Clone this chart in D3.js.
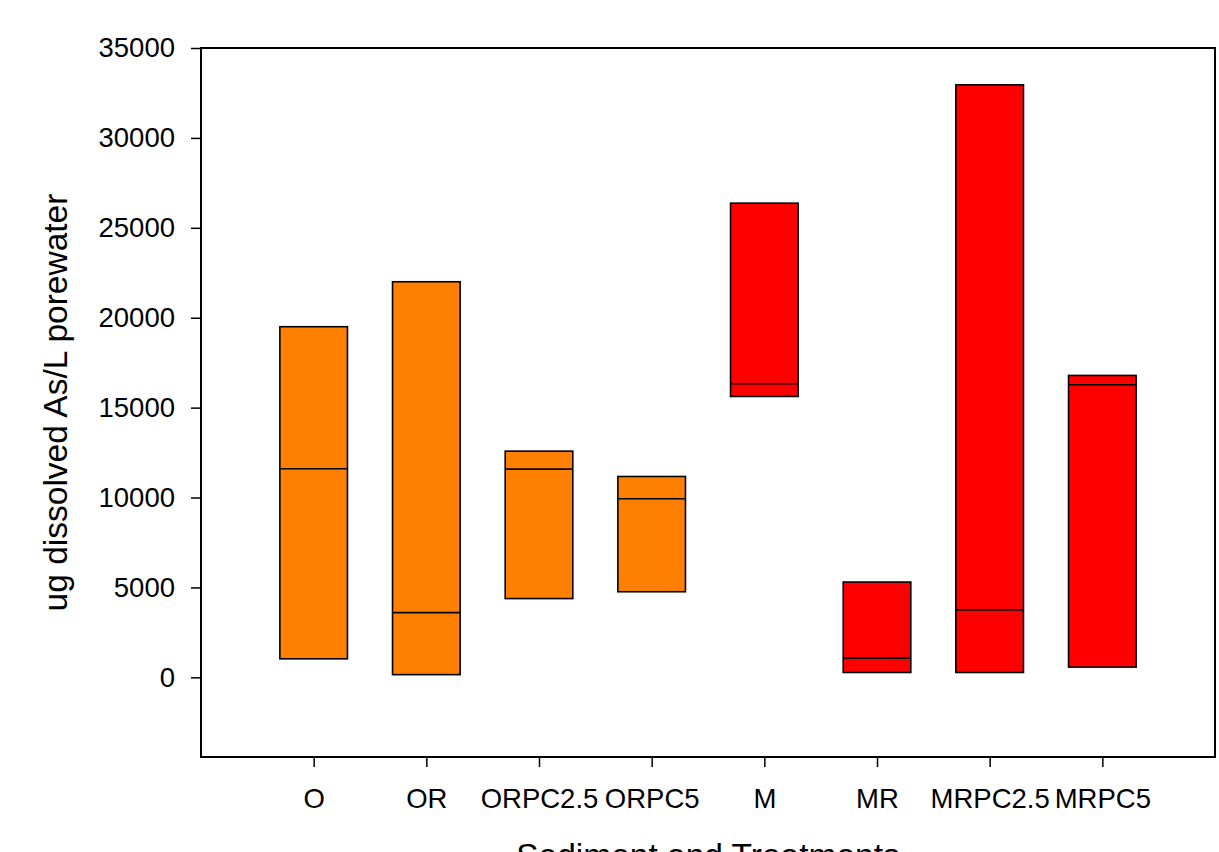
<!DOCTYPE html>
<html lang="en">
<head>
  <meta charset="utf-8" />
  <title>Dissolved As in porewater</title>
  <script src="https://cdn.jsdelivr.net/npm/d3@7"></script>
  <style>
    body { margin: 0; background: #fff; }
    svg  { display: block; font-family: "Liberation Sans", Arial, sans-serif; }
    .axis text { fill: #000; }
    .axis line { stroke: #000; stroke-width: 1.5px; }
    .box  { stroke: #000; stroke-width: 1.6px; }
    .med  { stroke: #000; stroke-width: 1.6px; }
  </style>
</head>
<body>
<script>
// values (ug/L)
const treatments = ['O', 'OR', 'ORPC2.5', 'ORPC5', 'M', 'MR', 'MRPC2.5', 'MRPC5'];
const lows    = [1030,  150,  4380, 4760, 15620,  270,   270,   570];
const medians = [11600, 3600, 11580, 9930, 16330, 1070,  3750, 16270];
const highs   = [19500, 22000, 12580, 11170, 26370, 5300, 32950, 16790];
const sediment = ['O', 'O', 'O', 'O', 'M', 'M', 'M', 'M'];
const yTicks = [0, 5000, 10000, 15000, 20000, 25000, 30000, 35000];

const W = 1219, H = 852;
const m = {left: 201, right: 1215, top: 48, bottom: 757};
const fillFor = {O: '#ff8000', M: '#ff0000'};

const svg = d3.select('body').append('svg').attr('width', W).attr('height', H);

const x = d3.scalePoint().domain(treatments).range([m.left, m.right]).padding(1);
const y = d3.scaleLinear().domain([-4430, 35000]).range([m.bottom, m.top]);
const boxW = x.step() * 0.6;

const data = treatments.map((t, i) => ({t, lo: lows[i], med: medians[i], hi: highs[i], s: sediment[i]}));

/* ---- boxes ---- */
const g = svg.append('g');
g.selectAll('rect.box').data(data).join('rect')
  .attr('class', 'box')
  .attr('x', d => x(d.t) - boxW / 2)
  .attr('width', boxW)
  .attr('y', d => y(d.hi))
  .attr('height', d => y(d.lo) - y(d.hi))
  .attr('fill', d => fillFor[d.s]);

g.selectAll('line.med').data(data).join('line')
  .attr('class', 'med')
  .attr('x1', d => x(d.t) - boxW / 2)
  .attr('x2', d => x(d.t) + boxW / 2)
  .attr('y1', d => y(d.med)).attr('y2', d => y(d.med));

/* ---- axes ---- */
const yAxis = svg.append('g').attr('class', 'axis')
  .attr('transform', `translate(${m.left},0)`)
  .call(d3.axisLeft(y).tickValues(yTicks).tickFormat(d3.format('d')).tickSize(10).tickPadding(16).tickSizeOuter(0));
yAxis.select('.domain').remove();
yAxis.selectAll('text').attr('font-size', 27.5).attr('font-family', null);

const xAxis = svg.append('g').attr('class', 'axis')
  .attr('transform', `translate(0,${m.bottom})`)
  .call(d3.axisBottom(x).tickSize(10).tickPadding(21).tickSizeOuter(0));
xAxis.select('.domain').remove();
xAxis.selectAll('text').attr('font-size', 27.5).attr('font-family', null);

// frame
svg.append('rect')
  .attr('x', m.left).attr('y', m.top)
  .attr('width', m.right - m.left).attr('height', m.bottom - m.top)
  .attr('fill', 'none').attr('stroke', '#000').attr('stroke-width', 2);

/* ---- titles ---- */
svg.append('text')
  .attr('transform', `translate(67,${(m.top + m.bottom) / 2}) rotate(-90)`)
  .attr('text-anchor', 'middle').attr('font-size', 33.5)
  .text('ug dissolved As/L porewater');

svg.append('text')
  .attr('x', (m.left + m.right) / 2).attr('y', 867)
  .attr('text-anchor', 'middle').attr('font-size', 33.5)
  .text('Sediment and Treatments');
</script>
</body>
</html>
